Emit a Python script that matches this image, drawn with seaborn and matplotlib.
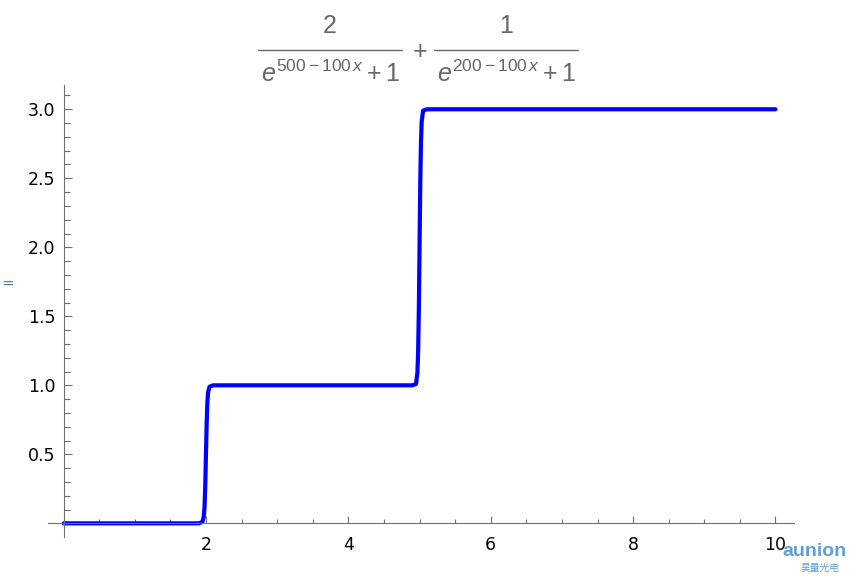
import matplotlib
matplotlib.use("Agg")
import matplotlib.pyplot as plt
import seaborn as sns
from matplotlib.lines import Line2D
from matplotlib.ticker import MultipleLocator, FixedLocator

# Curve values (two sharp steps: at x=2 and x=5)
x_vals = [0.0, 1.90, 1.95, 1.97, 1.98, 1.99, 2.00, 2.01, 2.02, 2.03, 2.05, 2.10,
          4.90, 4.95, 4.97, 4.98, 4.99, 5.00, 5.01, 5.02, 5.03, 5.05, 5.10, 10.0]
y_vals = [0.0, 0.00, 0.01, 0.05, 0.12, 0.27, 0.50, 0.73, 0.88, 0.95, 0.99, 1.00,
          1.00, 1.01, 1.09, 1.24, 1.54, 2.00, 2.46, 2.76, 2.91, 2.99, 3.00, 3.00]

x_major = [2, 4, 6, 8, 10]
y_major = [0.5, 1.0, 1.5, 2.0, 2.5, 3.0]

# title formula pieces: numerator / denominator of each fraction
numerators = ["2", "1"]
denominators = [r"$e^{500-100\,x}+1$", r"$e^{200-100\,x}+1$"]

sns.set_style("white")
plt.rcParams["font.family"] = ["DejaVu Sans", "Noto Sans CJK SC"]
plt.rcParams["mathtext.fontset"] = "custom"
plt.rcParams["mathtext.rm"] = "Liberation Sans"
plt.rcParams["mathtext.it"] = "Liberation Sans:italic"
plt.rcParams["mathtext.cal"] = "Liberation Sans"

AXIS_COLOR = "#707070"
TITLE_COLOR = "#666666"
W, H = 858, 580

fig = plt.figure(figsize=(W / 100, H / 100), dpi=100)
ax = fig.add_axes([48 / W, 1 - 537 / H, (794 - 48) / W, (537 - 85) / H])

sns.lineplot(x=x_vals, y=y_vals, ax=ax, color="#0000ff", linewidth=3.0,
             sort=False, estimator=None)

ax.set_xlim(-0.219, 10.26)
ax.set_ylim(-0.099, 3.176)

# Axes crossing at the origin, Mathematica style
for side in ["top", "right"]:
    ax.spines[side].set_visible(False)
for side in ["left", "bottom"]:
    ax.spines[side].set_position(("data", 0))
    ax.spines[side].set_color(AXIS_COLOR)
    ax.spines[side].set_linewidth(0.8)

ax.xaxis.set_major_locator(FixedLocator(x_major))
ax.yaxis.set_major_locator(FixedLocator(y_major))
ax.xaxis.set_minor_locator(MultipleLocator(0.5))
ax.yaxis.set_minor_locator(MultipleLocator(0.1))
ax.set_xticklabels([str(v) for v in x_major])
ax.set_yticklabels([f"{v:.1f}" for v in y_major])

ax.tick_params(axis="both", which="both", direction="in", color=AXIS_COLOR,
               width=0.8, labelsize=12.5, labelcolor="black",
               bottom=True, left=True, top=False, right=False)
ax.tick_params(axis="y", which="major", length=6, pad=6)
ax.tick_params(axis="y", which="minor", length=4)
ax.tick_params(axis="x", which="major", length=5, pad=9)
ax.tick_params(axis="x", which="minor", length=3)
ax.set_xlabel("")
ax.set_ylabel("")
ax.grid(False)

# Formula title, laid out as two stacked fractions
frac_spans = [(258, 402), (434, 578)]
for (x0, x1), num, den in zip(frac_spans, numerators, denominators):
    xc = (x0 + x1) / 2
    fig.text(xc / W, 1 - 26 / H, num, ha="center", va="center",
             fontsize=18, color=TITLE_COLOR, family="Liberation Sans")
    fig.add_artist(Line2D([x0 / W, x1 / W], [1 - 50 / H, 1 - 50 / H],
                          transform=fig.transFigure, color=TITLE_COLOR, lw=1.0))
    fig.text(xc / W, 1 - 82 / H, den, ha="center", va="baseline",
             fontsize=18, color=TITLE_COLOR)
fig.text(420 / W, 1 - 52 / H, "+", ha="center", va="center",
         fontsize=18, color=TITLE_COLOR, family="Liberation Sans")

# small stray mark on the left edge
fig.text(0.002, 1 - 283 / H, "=", ha="left", va="center",
         fontsize=11, color="#4a7fb0")

# watermark
fig.text(0.987, 1 - 552 / H, "aunion", ha="right", va="center",
         fontsize=14, fontweight="bold", color="#5d9fd8",
         family=["Liberation Sans", "DejaVu Sans"])
fig.text(0.956, 1 - 568 / H, "昊量光电", ha="center", va="center",
         fontsize=7, color="#5d9fd8", family=["Noto Sans CJK SC", "DejaVu Sans"])

plt.savefig("out.png", dpi=100)
